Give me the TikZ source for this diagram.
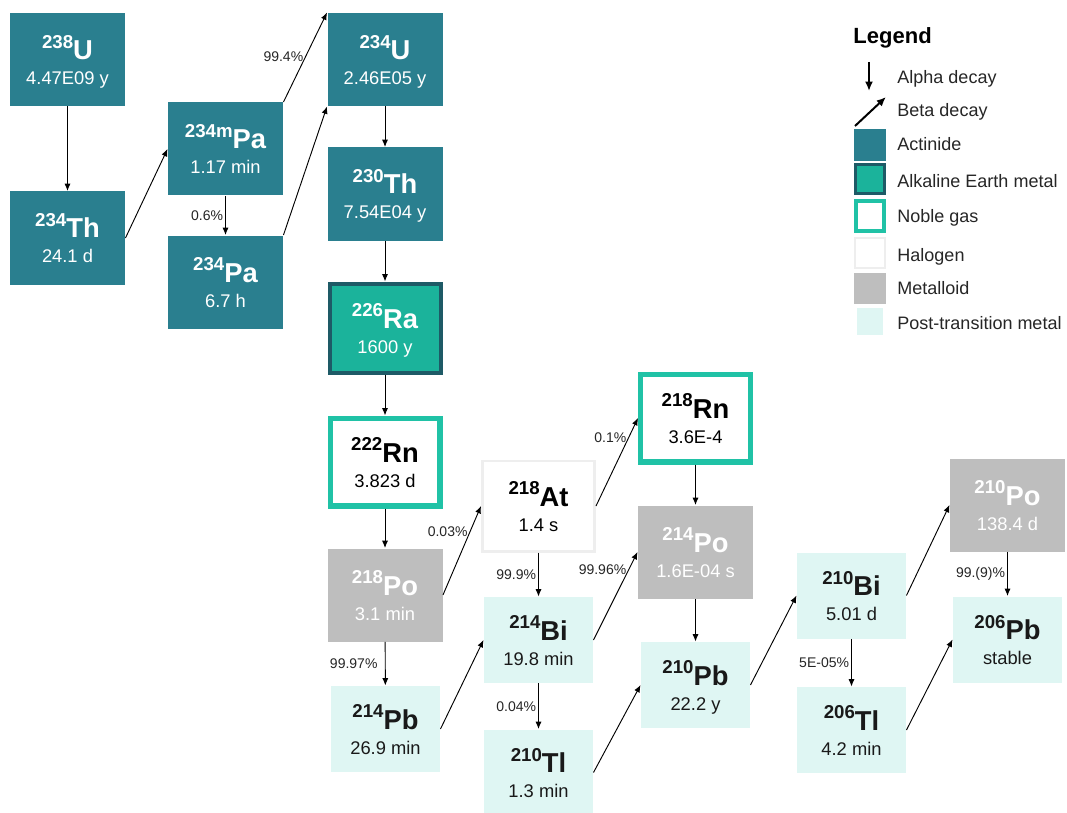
\documentclass[tikz,border=0pt]{standalone}
\usepackage{fontspec}
\setmainfont{Liberation Sans}
\usetikzlibrary{arrows.meta,positioning}

\definecolor{actcol}{HTML}{2A7F8F}
\definecolor{alkcol}{HTML}{1BB39B}
\definecolor{alkedge}{HTML}{1E5A66}
\definecolor{noblecol}{HTML}{20C2A6}
\definecolor{halcol}{HTML}{EEEEEE}
\definecolor{metcol}{HTML}{BEBEBE}
\definecolor{ptcol}{HTML}{DFF6F3}

\newcommand{\iso}[3]{%
  \makebox[0pt]{\raisebox{0pt}[0pt][0pt]{\bfseries\fontsize{14}{14}\selectfont\raisebox{8.5pt}{#1}\fontsize{20.5}{21}\selectfont #2}}%
  \makebox[0pt]{\raisebox{-18.75pt}[0pt][0pt]{\fontsize{13.75}{14}\selectfont #3}}}

\tikzset{
  big/.style={minimum width=86.25pt, minimum height=69.75pt},
  small/.style={minimum width=81.75pt, minimum height=64.5pt},
  actinide/.style={big, fill=actcol, text=white},
  alkearth/.style={fill=alkcol, draw=alkedge, line width=3pt, text=white,
    minimum width=83.25pt, minimum height=66.75pt},
  noble/.style={fill=white, draw=noblecol, line width=4.1pt, text=black,
    minimum width=82.15pt, minimum height=65.65pt},
  halogen/.style={fill=white, draw=halcol, line width=2pt, text=black,
    minimum width=84.25pt, minimum height=67.75pt},
  metalloid/.style={big, fill=metcol, text=white},
  posttrans/.style={small, fill=ptcol, text=black!90},
  pct/.style={font=\fontsize{10.5}{12}\selectfont, anchor=east, inner sep=1.5pt, text=black!85},
  legtext/.style={anchor=base west, inner sep=0pt, font=\fontsize{13.5}{16}\selectfont, text=black!85},
  legbox/.style={minimum width=24pt, minimum height=24pt}
}

\begin{document}
\begin{tikzpicture}[x=0.75pt, y=-0.75pt, line width=0.7pt,
    >={Latex[length=5.5pt,width=4.5pt]}]
  \fill[white] (0,0) rectangle (1067,813);
  \useasboundingbox (0,0) rectangle (1067,813);

  \node[actinide] (u238) at (67.5,59.5) {\iso{238}{U}{4.47E09 y}};
  \node[actinide] (th234) at (67.5,238) {\iso{234}{Th}{24.1 d}};
  \node[actinide] (pa234m) at (225.5,149) {\iso{234m}{Pa}{1.17 min}};
  \node[actinide] (pa234) at (225.5,282) {\iso{234}{Pa}{6.7 h}};
  \node[actinide] (u234) at (385,59.5) {\iso{234}{U}{2.46E05 y}};
  \node[actinide] (th230) at (385,194) {\iso{230}{Th}{7.54E04 y}};
  \node[alkearth] (ra226) at (385,328) {\iso{226}{Ra}{1600 y}};
  \node[noble] (rn222) at (385,462) {\iso{222}{Rn}{3.823 d}};
  \node[metalloid] (po218) at (385,595) {\iso{218}{Po}{3.1 min}};
  \node[posttrans] (pb214) at (385.5,729) {\iso{214}{Pb}{26.9 min}};
  \node[halogen] (at218) at (538.5,506) {\iso{218}{At}{1.4 s}};
  \node[posttrans] (bi214) at (538.5,640) {\iso{214}{Bi}{19.8 min}};
  \node[posttrans] (tl210) at (538.5,772.5) {\iso{210}{Tl}{1.3 min}};
  \node[noble] (rn218) at (695.5,418) {\iso{218}{Rn}{3.6E-4}};
  \node[metalloid] (po214) at (695.5,552) {\iso{214}{Po}{1.6E-04 s}};
  \node[posttrans] (pb210) at (695.5,685) {\iso{210}{Pb}{22.2 y}};
  \node[posttrans] (bi210) at (851.5,595.5) {\iso{210}{Bi}{5.01 d}};
  \node[posttrans] (tl206) at (851.5,730) {\iso{206}{Tl}{4.2 min}};
  \node[metalloid] (po210) at (1007.5,505) {\iso{210}{Po}{138.4 d}};
  \node[posttrans] (pb206) at (1007.5,639.5) {\iso{206}{Pb}{stable}};

  \draw[->] (u238) -- (th234);
  \draw[->] (th234.east) -- (pa234m.west);
  \draw[->] (pa234m.north east) -- node[pct, pos=0.51] {99.4\%} (u234.north west);
  \draw[->] (pa234m) -- node[pct] {0.6\%} (pa234);
  \draw[->] (pa234.north east) -- (u234.south west);
  \draw[->] (u234) -- (th230);
  \draw[->] (th230) -- (ra226);
  \draw[->] (ra226) -- (rn222);
  \draw[->] (rn222) -- (po218);
  \draw[->] (po218) -- node[pct, xshift=-4pt] {99.97\%} (pb214);
  \draw[->] (po218.east) -- node[pct, pos=0.71] {0.03\%} (at218.west);
  \draw[->] (pb214.east) -- (bi214.west);
  \draw[->] (at218) -- node[pct] {99.9\%} (bi214);
  \draw[->] (at218.east) -- node[pct, pos=0.78] {0.1\%} (rn218.west);
  \draw[->] (bi214) -- node[pct] {0.04\%} (tl210);
  \draw[->] (bi214.east) -- node[pct, pos=0.8] {99.96\%} (po214.west);
  \draw[->] (rn218) -- (po214);
  \draw[->] (po214) -- (pb210);
  \draw[->] (tl210.east) -- (pb210.west);
  \draw[->] (pb210.east) -- (bi210.west);
  \draw[->] (bi210.east) -- (po210.west);
  \draw[->] (bi210) -- node[pct] {5E-05\%} (tl206);
  \draw[->] (po210) -- node[pct] {99.(9)\%} (pb206);
  \draw[->] (tl206.east) -- (pb206.west);

  \node[anchor=base west, inner sep=0pt, font=\bfseries\fontsize{16.5}{18}\selectfont] (legend) at (853,44) {Legend};
  \coordinate (alphatop) at (869,62);
  \coordinate (alphabot) at (869,91);
  \coordinate (betabot) at (855,126);
  \coordinate (betatop) at (886,97);
  \draw[->, line width=1.5pt, >={Latex[length=7pt,width=6pt]}] (alphatop) -- (alphabot);
  \draw[->, line width=1.5pt, >={Latex[length=7pt,width=6pt]}] (betabot) -- (betatop);
  \node[legtext] (lalpha) at (897,84) {Alpha decay};
  \node[legtext] (lbeta) at (897,117) {Beta decay};
  \node[actinide, legbox] (sact) at (870,145) {};
  \node[legtext] (lact) at (897,151) {Actinide};
  \node[alkearth, legbox, minimum width=21.75pt, minimum height=21.75pt, line width=2.25pt] (salk) at (870,179) {};
  \node[legtext] (lalk) at (897,187) {Alkaline Earth metal};
  \node[noble, legbox, minimum width=21pt, minimum height=22.5pt, line width=3pt] (snob) at (870,216) {};
  \node[legtext] (lnob) at (897,223) {Noble gas};
  \node[halogen, legbox, minimum width=22.5pt, minimum height=22.5pt] (shal) at (870,253) {};
  \node[legtext] (lhal) at (897,261) {Halogen};
  \node[metalloid, legbox, minimum height=23.25pt] (smet) at (870,288) {};
  \node[legtext] (lmet) at (897,294) {Metalloid};
  \node[posttrans, minimum width=19.5pt, minimum height=20.25pt] (spt) at (870,321) {};
  \node[legtext] (lpt) at (897,329) {Post-transition metal};
\end{tikzpicture}
\end{document}
